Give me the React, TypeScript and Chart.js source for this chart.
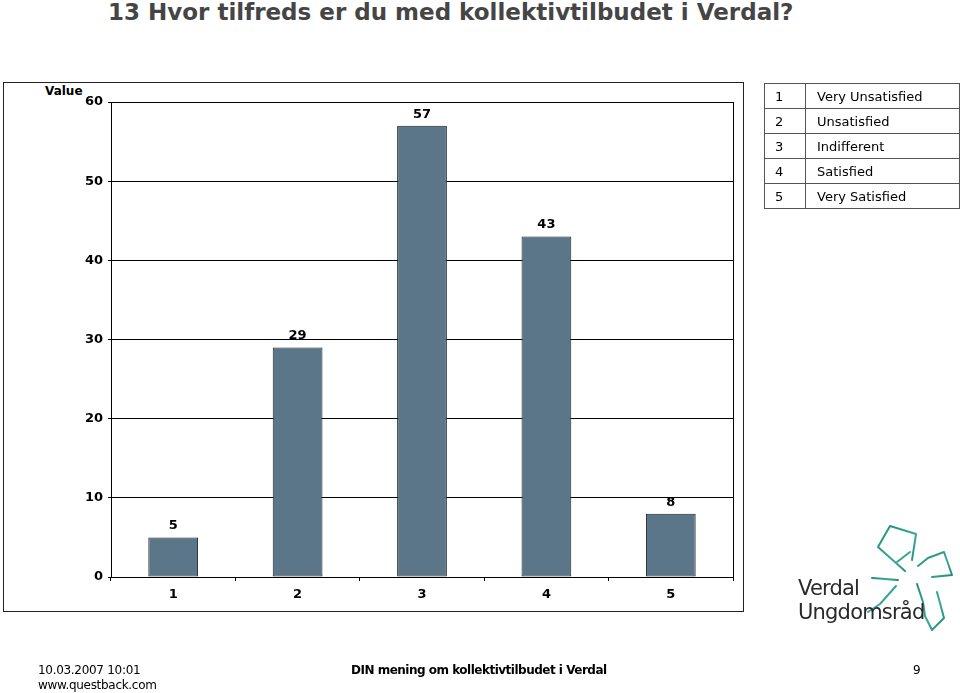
import React, { useEffect, useRef } from "react";
import { Chart, registerables } from "chart.js";

Chart.register(...registerables);

const titleText = "13 Hvor tilfreds er du med kollektivtilbudet i Verdal?";
const categories = ["1", "2", "3", "4", "5"];
const values = [5, 29, 57, 43, 8];
const legendRows = [
  ["1", "Very Unsatisfied"],
  ["2", "Unsatisfied"],
  ["3", "Indifferent"],
  ["4", "Satisfied"],
  ["5", "Very Satisfied"],
];
const yAxisTitle = "Value";
const footerLeft = ["10.03.2007 10:01", "www.questback.com"];
const footerCenter = "DIN mening om kollektivtilbudet i Verdal";
const footerRight = "9";
const logoLines = ["Verdal", "Ungdomsråd"];

const FONT = "'DejaVu Sans', Verdana, sans-serif";

const framePlugin = {
  id: "frame",
  afterDatasetsDraw(chart: any) {
    const { ctx, chartArea } = chart;
    ctx.save();
    ctx.strokeStyle = "#000";
    ctx.lineWidth = 1;
    ctx.strokeRect(
      Math.round(chartArea.left) + 0.5,
      Math.round(chartArea.top) + 0.5,
      Math.round(chartArea.right - chartArea.left),
      Math.round(chartArea.bottom - chartArea.top)
    );
    ctx.font = `bold 13px ${FONT}`;
    ctx.fillStyle = "#000";
    ctx.textAlign = "center";
    ctx.textBaseline = "bottom";
    const meta = chart.getDatasetMeta(0);
    meta.data.forEach((bar: any, i: number) => {
      ctx.fillText(String(chart.data.datasets[0].data[i]), bar.x, bar.y - 5);
    });
    ctx.restore();
  },
};

function ChartCanvas() {
  const ref = useRef<HTMLCanvasElement | null>(null);
  useEffect(() => {
    if (!ref.current) return;
    const chart = new Chart(ref.current, {
      type: "bar",
      data: {
        labels: categories,
        datasets: [
          {
            data: values,
            backgroundColor: "#5b7688",
            borderColor: "#1a232b",
            borderWidth: 1,
            borderSkipped: false,
            categoryPercentage: 1,
            barPercentage: 0.4,
          },
        ],
      },
      options: {
        animation: false,
        responsive: false,
        maintainAspectRatio: false,
        layout: { padding: { left: 0, top: 102, right: 227, bottom: 86 } },
        plugins: {
          legend: { display: false },
          tooltip: { enabled: false },
          title: { display: false },
        },
        scales: {
          x: {
            offset: true,
            grid: {
              display: true,
              drawOnChartArea: false,
              offset: true,
              tickLength: 4,
              color: "#000",
            },
            border: { display: true, color: "#000", width: 1 },
            ticks: {
              color: "#000",
              font: { family: FONT, size: 13, weight: "bold" },
              padding: 6,
            },
            afterFit(scale: any) {
              scale.height = 30;
            },
          },
          y: {
            min: 0,
            max: 60,
            ticks: {
              stepSize: 10,
              color: "#000",
              font: { family: FONT, size: 13, weight: "bold" },
              padding: 5,
            },
            grid: { color: "#000", tickLength: 3, lineWidth: 1 },
            border: { display: true, color: "#000", width: 1 },
            afterFit(scale: any) {
              scale.width = 111;
            },
          },
        },
      },
      plugins: [framePlugin],
    });
    return () => chart.destroy();
  }, []);
  return (
    <canvas
      ref={ref}
      width={960}
      height={693}
      style={{ position: "absolute", left: 0, top: 0, width: 960, height: 693 }}
    />
  );
}

function Logo() {
  return (
    <div style={{ position: "absolute", left: 790, top: 515, width: 170, height: 130 }}>
      <svg width={170} height={130} viewBox="790 515 170 130" style={{ position: "absolute", left: 0, top: 0 }}>
        <defs>
          <linearGradient id="lg" x1="0" y1="0" x2="1" y2="1">
            <stop offset="0" stopColor="#1f8f7c" />
            <stop offset="0.6" stopColor="#3aa996" />
            <stop offset="1" stopColor="#1e8a76" />
          </linearGradient>
        </defs>
        <g fill="none" stroke="url(#lg)" strokeWidth={2} strokeLinejoin="round" strokeLinecap="round">
          <path d="M905 571 L878 547 L890 526 L916 534 L912 560" />
          <path d="M918 566 L928 558 L944 552 L952 575 L932 577" />
          <path d="M917 584 L923 602 L925 616 L932 630 L944 618 L937 592" />
          <path d="M898 580 L872 578" />
          <path d="M896 586 L880 604 L868 612" />
          <path d="M910 552 L897 562" />
        </g>
      </svg>
      <div
        style={{
          position: "absolute",
          left: 8,
          top: 61,
          fontFamily: FONT,
          fontSize: 21,
          lineHeight: "24px",
          color: "#2a2a2a",
          letterSpacing: -0.8,
        }}
      >
        <div>{logoLines[0]}</div>
        <div>{logoLines[1]}</div>
      </div>
    </div>
  );
}

export default function App() {
  return (
    <div
      style={{
        position: "fixed",
        left: 0,
        top: 0,
        width: 960,
        height: 693,
        background: "#fff",
        overflow: "hidden",
      }}
    >
      <div
        style={{
          position: "absolute",
          left: 108,
          top: -1,
          fontFamily: FONT,
          fontWeight: "bold",
          fontSize: 23,
          color: "#454545",
          whiteSpace: "nowrap",
        }}
      >
        {titleText}
      </div>
      <div
        style={{
          position: "absolute",
          left: 3,
          top: 82,
          width: 739,
          height: 528,
          border: "1.5px solid #222",
        }}
      />
      <div
        style={{
          position: "absolute",
          left: 45,
          top: 84,
          fontFamily: FONT,
          fontWeight: "bold",
          fontSize: 12,
          color: "#000",
        }}
      >
        {yAxisTitle}
      </div>
      <ChartCanvas />
      <table
        style={{
          position: "absolute",
          left: 764,
          top: 83,
          width: 196,
          borderCollapse: "collapse",
          tableLayout: "fixed",
          fontFamily: FONT,
          fontSize: 13,
          color: "#000",
        }}
      >
        <colgroup>
          <col style={{ width: 41 }} />
          <col />
        </colgroup>
        <tbody>
          {legendRows.map((r) => (
            <tr key={r[0]} style={{ height: 25 }}>
              <td style={{ border: "1px solid #555", padding: "0 0 0 10px" }}>{r[0]}</td>
              <td style={{ border: "1px solid #555", padding: "0 0 0 11px" }}>{r[1]}</td>
            </tr>
          ))}
        </tbody>
      </table>
      <Logo />
      <div
        style={{
          position: "absolute",
          left: 38,
          top: 663,
          fontFamily: FONT,
          fontSize: 12,
          lineHeight: "15px",
          letterSpacing: -0.3,
          color: "#000",
        }}
      >
        <div>{footerLeft[0]}</div>
        <div>{footerLeft[1]}</div>
      </div>
      <div
        style={{
          position: "absolute",
          left: 351,
          top: 663,
          fontFamily: FONT,
          fontWeight: "bold",
          fontSize: 12,
          lineHeight: "15px",
          letterSpacing: -0.5,
          color: "#000",
        }}
      >
        {footerCenter}
      </div>
      <div
        style={{
          position: "absolute",
          left: 913,
          top: 663,
          fontFamily: FONT,
          fontSize: 12,
          lineHeight: "15px",
          color: "#000",
        }}
      >
        {footerRight}
      </div>
    </div>
  );
}
